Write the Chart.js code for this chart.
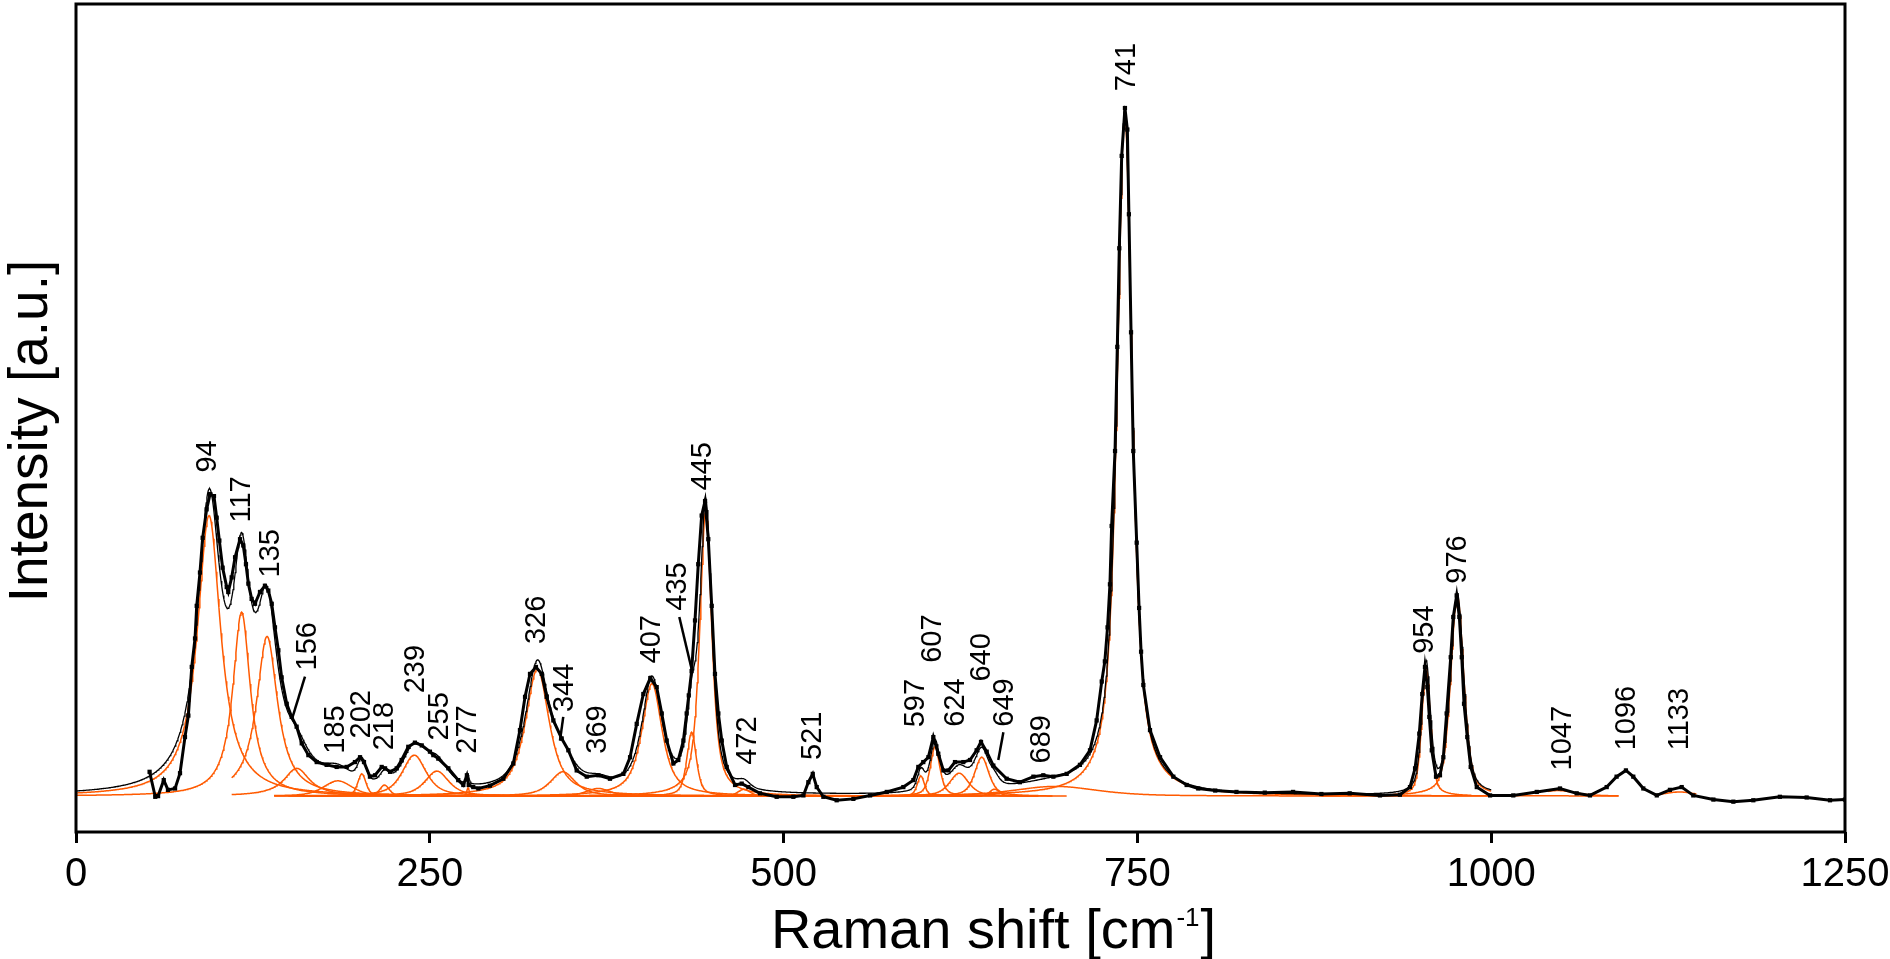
<!DOCTYPE html>
<html>
<head>
<meta charset="utf-8">
<script src="https://cdn.jsdelivr.net/npm/chart.js@4.4.1/dist/chart.umd.min.js"></script>
<style>
  html, body { margin: 0; padding: 0; background: #fff; }
  #wrap { width: 1890px; height: 959px; }
</style>
</head>
<body>
<div id="wrap"><canvas id="ramanChart" width="1890" height="959"></canvas></div>
<script>
const ramanShift = [
  52, 56, 58, 62, 65, 70, 73.5, 77, 79.4, 81.8, 84.1, 85.3, 87.6, 89.5, 92.3, 94.7, 97.5, 99.4,
  101.3, 103.6, 106.5, 107.6, 110, 112.4, 115.9, 118.2, 120.1, 121.8, 124.1, 126.5, 130, 133.5,
  135.9, 138.3, 140.6, 143, 145.3, 148.9, 152.4, 155.9, 159.5, 164.2, 170.1, 177.1, 184.2, 191.3,
  197.1, 200.7, 203.5, 207.7, 211.3, 216, 218.4, 221.9, 226.6, 230.1, 234.8, 239.5, 244.3, 250.1,
  252.5, 256, 263.1, 270.1, 273.7, 276.2, 277.5, 280.7, 284.3, 292.5, 301.9, 309, 313.7, 317.3,
  320.8, 325, 329.1, 332.6, 337.3, 343.2, 347.9, 353.8, 360.9, 369.1, 377.3, 386.8, 391.5, 396.2,
  400.9, 405.8, 410.3, 413.9, 417.4, 422.1, 425.6, 429.2, 431.5, 433, 435, 437.4, 439.7, 442.1,
  444.5, 446.8, 449.2, 451.5, 453.9, 456.3, 459.8, 465.7, 470.4, 475.1, 483.3, 495.1, 506.9, 514,
  517.5, 520.6, 523.4, 528.1, 537.5, 549.3, 561.1, 572.9, 584.6, 591.7, 595.2, 598.7, 602.3, 605.8,
  609.3, 612.9, 616.4, 621.1, 627, 631.7, 636.4, 639.5, 643.5, 648.2, 657.6, 667, 676.5, 683.5,
  690.6, 700, 709.4, 716.5, 721.2, 724.8, 727, 728.9, 730.6, 731.8, 734.2, 735.8, 737.2, 738.9,
  741.2, 742.9, 744, 745.5, 747.1, 749.5, 751.2, 752.6, 754.2, 758.9, 766, 775.4, 784.8, 793,
  805, 820, 840, 860, 880, 900, 921.4, 935.5, 942.6, 946.2, 949.2, 951.3, 953.2, 954.9, 956.3,
  958, 961, 963.8, 966.2, 968.5, 971.4, 973.2, 975.6, 977.5, 979.2, 980.8, 983.1, 985.5, 989.8,
  999.2, 1015.6, 1032.2, 1048.6, 1060.4, 1069.8, 1081.6, 1088.6, 1095.2, 1100.4, 1107.5, 1117,
  1126.3, 1134.6, 1142.8, 1157, 1171.1, 1185.2, 1204, 1222.9, 1239.4, 1250
];
const intensity = [
  3.5, -0.1, 0.0, 2.3, 0.9, 1.1, 3.3, 8.5, 11.6, 18.6, 22.7, 27.4, 32.2, 37.2, 41.3, 43.5, 43.2, 40.1,
  36.8, 32.9, 30.1, 29.4, 31.5, 34.4, 37.0, 36.1, 33.4, 30.6, 28.4, 27.7, 29.4, 30.3,
  29.6, 27.7, 24.3, 21.0, 17.1, 13.3, 11.4, 10.0, 7.6, 5.9, 4.9, 4.5, 4.2, 4.2,
  4.9, 5.6, 4.9, 2.8, 3.0, 4.2, 4.0, 3.5, 4.0, 5.2, 7.1, 7.7, 7.3, 6.4,
  5.9, 5.4, 4.0, 2.3, 1.6, 3.0, 1.6, 1.3, 1.1, 1.5, 2.5, 4.7, 9.5, 14.3,
  17.6, 18.6, 17.6, 14.3, 10.9, 8.3, 6.6, 3.7, 2.8, 3.0, 2.5, 3.2, 5.6, 10.4,
  14.7, 17.0, 15.7, 11.9, 8.0, 4.7, 5.2, 8.0, 11.9, 14.5, 18.0, 25.3, 33.4, 40.4,
  42.5, 37.0, 27.4, 17.6, 11.9, 8.0, 4.2, 1.6, 1.8, 1.3, 0.4, -0.1, -0.1, 0.1,
  2.0, 3.2, 1.3, -0.1, -0.6, -0.4, 0.1, 0.6, 1.3, 2.3, 4.2, 4.9, 5.6, 8.5,
  6.1, 3.7, 3.7, 4.9, 4.9, 5.2, 6.6, 7.8, 6.4, 4.4, 2.5, 2.0, 2.8, 3.0,
  2.8, 3.2, 4.5, 6.6, 10.9, 16.5, 19.4, 24.3, 30.5, 38.9, 49.7, 64.7, 78.9, 92.2,
  99.1, 96.0, 83.8, 66.8, 49.7, 36.5, 27.1, 20.8, 16.0, 9.5, 5.6, 2.8, 1.6, 1.1,
  0.8, 0.6, 0.5, 0.6, 0.3, 0.4, 0.1, 0.2, 1.3, 4.0, 9.0, 14.7, 18.6, 15.7, 11.4,
  6.6, 2.8, 3.0, 5.6, 11.9, 20.0, 25.8, 28.9, 25.8, 20.0, 13.3, 8.5, 4.2, 1.3,
  0.1, 0.1, 0.6, 1.1, 0.4, 0.1, 1.3, 2.8, 3.7, 2.8, 1.1, 0.1,
  0.9, 1.3, 0.1, -0.5, -0.8, -0.6, -0.1, -0.2, -0.6, -0.5
];

// Fitted components (pseudo-Voigt): centre, height, FWHM, Lorentzian fraction, drawn range
const peakCenter = [94, 117, 135, 156, 185, 202, 218, 239, 255, 277, 326, 344, 369, 407, 435, 445, 472,
                    597, 607, 624, 640, 649, 692, 741, 954, 976, 1047, 1133];
const peakHeight = [40.4, 26.5, 23.0, 4.0, 2.2, 3.2, 1.6, 5.9, 3.6, 1.2, 18.3, 3.5, 1.1, 16.2, 9.2, 41.1, 1.0,
                    2.9, 7.1, 3.3, 5.6, 1.0, 1.4, 98.5, 18.6, 28.9, 0.8, 0.6];
const peakFwhm   = [20, 15, 18, 22, 24, 7, 8, 20, 20, 2, 20, 21, 20, 17, 8, 10, 10,
                    6, 8, 16, 12, 8, 70, 12.8, 7.2, 11, 30, 25];
const peakLorFrac = [1, 1, 1, 1, 0.5, 0.5, 0.5, 0.7, 0.7, 0.5, 0.8, 0.7, 0.5, 0.8, 0.6, 0.7, 0.5,
                     0.5, 0.6, 0.6, 0.6, 0.5, 0.5, 0.8, 0.5, 0.5, 0.5, 0.5];
const peakFrom   = [0, 0, 110, 110, 140, 150, 160, 160, 180, 260, 140, 200, 260, 260, 320, 300, 440,
                    560, 540, 560, 560, 600, 140, 560, 880, 900, 1040, 1115];
const peakTo     = [300, 350, 400, 450, 420, 450, 450, 480, 520, 300, 560, 600, 600, 680, 520, 600, 500,
                    640, 680, 700, 680, 690, 1000, 1090, 986, 1000, 1090, 1145];

// Peak annotations (text starts at labelY and runs upwards)
const labelText = ['94', '117', '135', '156', '185', '202', '218', '239', '255', '277', '326', '344', '369',
                   '407', '435', '445', '472', '521', '597', '607', '624', '640', '649', '689', '741',
                   '954', '976', '1047', '1096', '1133'];
const labelX = [93.5, 117.5, 137.5, 164.2, 183.7, 201.9, 218.3, 240.2, 257.2, 277.2, 325.5, 345.5, 369.1,
                406.8, 425.6, 443.3, 475.1, 520.6, 593.5, 605.8, 621.7, 640, 656.4, 682.4, 742.7,
                953.2, 976.7, 1050.9, 1095.7, 1133.4];
const labelY = [46.6, 39.4, 31.5, 18.1, 6.1, 8.3, 6.6, 14.8, 8.0, 6.1, 21.9, 12.1, 6.1,
                19.1, 26.7, 44.0, 4.5, 5.2, 9.9, 19.2, 10.0, 16.5, 10.0, 4.7, 101.5,
                20.5, 30.6, 3.7, 6.6, 6.6];

// Leader lines for crowded labels: [x1, y1, x2, y2]
const leaderLines = [
  [161.8, 17.2, 152.9, 11.3],
  [344.3, 11.4, 342.0, 8.0],
  [426.3, 25.8, 435.0, 18.3],
  [655.3, 9.2, 651.7, 5.2]
];

const xTicks = [0, 250, 500, 750, 1000, 1250];
const yMin = -5.17, yMax = 114.08;

const FONT = '"Liberation Sans", Arial, Helvetica, sans-serif';
const ORANGE = '#ff5a00';

function pseudoVoigt(x, c, h, w, eta) {
  const d = (x - c) / (w / 2);
  const lor = 1 / (1 + d * d);
  const gau = Math.exp(-Math.LN2 * d * d);
  return h * (eta * lor + (1 - eta) * gau);
}

const measured = ramanShift.map((x, i) => ({x: x, y: intensity[i]}));

const componentSets = peakCenter.map((c, k) => {
  const pts = [];
  for (let x = peakFrom[k]; x <= peakTo[k]; x += 0.5) {
    pts.push({x: x, y: pseudoVoigt(x, c, peakHeight[k], peakFwhm[k], peakLorFrac[k])});
  }
  return {
    data: pts,
    borderColor: ORANGE,
    borderWidth: 1.5,
    pointRadius: 0,
    tension: 0
  };
});

const fitSum = [];
for (let x = 0; x <= 1000; x += 0.5) {
  let s = 0;
  peakCenter.forEach((c, k) => { s += pseudoVoigt(x, c, peakHeight[k], peakFwhm[k], peakLorFrac[k]); });
  fitSum.push({x: x, y: s});
}

const annotations = {
  id: 'annotations',
  afterDraw(chart) {
    const ctx = chart.ctx;
    const area = chart.chartArea;
    const xs = chart.scales.x, ys = chart.scales.y;
    ctx.save();

    // frame
    ctx.strokeStyle = '#000';
    ctx.lineWidth = 3;
    ctx.strokeRect(area.left, area.top, area.right - area.left, area.bottom - area.top);

    // leader lines
    ctx.lineWidth = 2.5;
    leaderLines.forEach(l => {
      ctx.beginPath();
      ctx.moveTo(xs.getPixelForValue(l[0]), ys.getPixelForValue(l[1]));
      ctx.lineTo(xs.getPixelForValue(l[2]), ys.getPixelForValue(l[3]));
      ctx.stroke();
    });

    // peak labels, rotated
    ctx.fillStyle = '#000';
    ctx.font = '29px ' + FONT;
    ctx.textAlign = 'left';
    ctx.textBaseline = 'middle';
    labelText.forEach((t, i) => {
      ctx.save();
      ctx.translate(xs.getPixelForValue(labelX[i]), ys.getPixelForValue(labelY[i]));
      ctx.rotate(-Math.PI / 2);
      ctx.fillText(t, 0, 0);
      ctx.restore();
    });

    // x axis title with superscript
    const main1 = 'Raman shift [cm', sup = '-1', main2 = ']';
    ctx.font = '56px ' + FONT;
    const w1 = ctx.measureText(main1).width, w3 = ctx.measureText(main2).width;
    ctx.font = '26px ' + FONT;
    const w2 = ctx.measureText(sup).width;
    const total = w1 + w2 + w3;
    let tx = (area.left + area.right) / 2 + 32 - total / 2;
    const base = 948;
    ctx.textBaseline = 'alphabetic';
    ctx.font = '56px ' + FONT;
    ctx.fillText(main1, tx, base);
    ctx.font = '26px ' + FONT;
    ctx.fillText(sup, tx + w1 + 1, base - 22);
    ctx.font = '56px ' + FONT;
    ctx.fillText(main2, tx + w1 + w2 + 2, base);

    // y axis title
    ctx.save();
    ctx.translate(47, (area.top + area.bottom) / 2 + 13);
    ctx.rotate(-Math.PI / 2);
    ctx.textAlign = 'center';
    ctx.font = '55px ' + FONT;
    ctx.fillText('Intensity [a.u.]', 0, 0);
    ctx.restore();

    ctx.restore();
  }
};

new Chart(document.getElementById('ramanChart'), {
  type: 'line',
  data: {
    datasets: [
      {
        data: measured,
        borderColor: '#000',
        borderWidth: 3,
        pointStyle: 'rect',
        pointRadius: 3,
        pointBackgroundColor: '#000',
        pointBorderWidth: 0,
        tension: 0
      },
      {
        data: fitSum,
        borderColor: '#000',
        borderWidth: 1.3,
        pointRadius: 0,
        tension: 0
      },
      ...componentSets
    ]
  },
  options: {
    responsive: false,
    devicePixelRatio: 1,
    animation: false,
    parsing: false,
    normalized: true,
    layout: {
      padding: {left: 76, right: 45, top: 2, bottom: 0}
    },
    plugins: {
      legend: {display: false},
      tooltip: {enabled: false}
    },
    scales: {
      x: {
        type: 'linear',
        min: 0,
        max: 1250,
        afterBuildTicks: axis => { axis.ticks = xTicks.map(v => ({value: v})); },
        afterFit: scale => {
          scale.height = 127;
          scale.paddingLeft = 0;
          scale.paddingRight = 0;
        },
        border: {display: false},
        grid: {
          drawOnChartArea: false,
          drawTicks: true,
          tickLength: 11,
          tickWidth: 3,
          tickColor: '#000'
        },
        ticks: {
          color: '#000',
          padding: 8,
          maxRotation: 0,
          font: {family: FONT, size: 40},
          callback: value => String(value)
        }
      },
      y: {
        type: 'linear',
        display: false,
        min: yMin,
        max: yMax
      }
    }
  },
  plugins: [annotations]
});
</script>
</body>
</html>
